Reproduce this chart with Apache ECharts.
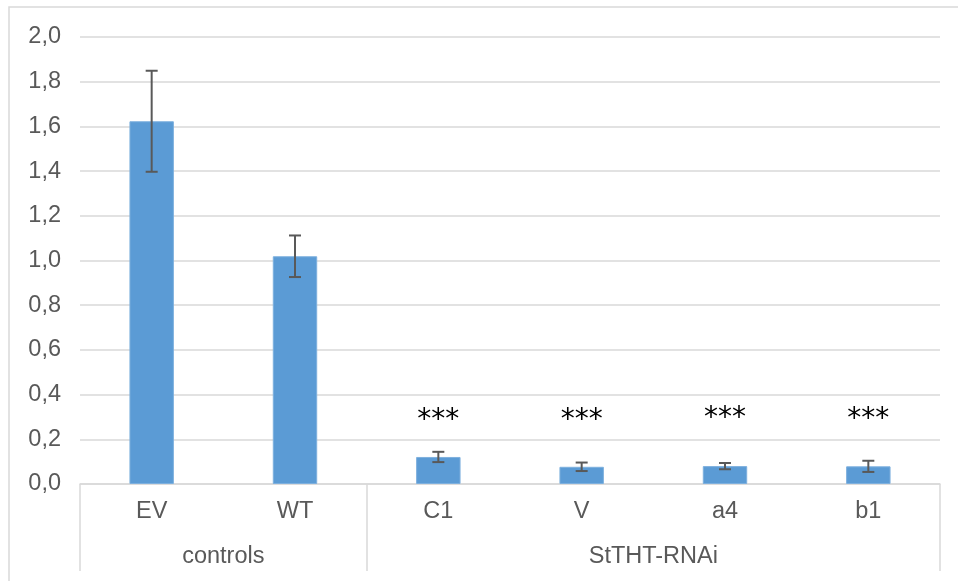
<!DOCTYPE html>
<html><head><meta charset="utf-8">
<script src="https://cdn.jsdelivr.net/npm/echarts@6/dist/echarts.min.js"></script>
<style>html,body{margin:0;padding:0;background:#fff}#c{width:958px;height:581px}</style>
</head><body><div id="c"></div>
<script>
const categories = ['EV','WT','C1','V','a4','b1'];
const values = [1.623, 1.019, 0.121, 0.077, 0.080, 0.079];
const errors = [0.226, 0.093, 0.023, 0.019, 0.014, 0.025];
const starLabels = ['', '', '***', '***', '***', '***'];
const starY = [0, 0, 0.318, 0.318, 0.328, 0.325];
const groups = ['controls', 'StTHT-RNAi'];
const groupCenters = [1, 4];
const groupEdges = [0, 2, 6];

const FONT = '"Liberation Sans", Arial, sans-serif';
const TXT = '#595959';
const GRID = '#d9d9d9';
const FS = 23.5;

const chart = echarts.init(document.getElementById('c'), null, {renderer: 'canvas'});
chart.setOption({
  animation: false,
  backgroundColor: '#fff',
  graphic: [{
    type: 'rect', shape: {x: 9, y: 7, width: 960, height: 580},
    style: {fill: 'none', stroke: GRID, lineWidth: 1.5}, silent: true, z: -1
  }],
  grid: {left: 80, right: 18, top: 37, bottom: 97, containLabel: false},
  xAxis: [{
    type: 'category', data: categories,
    axisLine: {show: true, lineStyle: {color: GRID, width: 1.5}},
    axisTick: {show: false},
    axisLabel: {color: TXT, fontSize: FS, fontFamily: FONT, margin: 16}
  }, {
    type: 'value', min: 0, max: 6, position: 'bottom',
    axisLine: {show: false},
    splitLine: {show: false},
    axisTick: {show: true, customValues: groupEdges, length: 87, lineStyle: {color: GRID, width: 1.5}},
    axisLabel: {show: true, customValues: groupCenters, color: TXT, fontSize: FS, fontFamily: FONT, margin: 61,
      formatter: v => groups[groupCenters.indexOf(v)] || ''}
  }],
  yAxis: {
    type: 'value', min: 0, max: 2, interval: 0.2,
    axisLine: {show: false}, axisTick: {show: false},
    splitLine: {lineStyle: {color: GRID, width: 1.5}},
    axisLabel: {color: TXT, fontSize: FS, fontFamily: FONT, margin: 19,
      formatter: v => v.toFixed(1).replace('.', ',')}
  },
  series: [{
    type: 'bar', data: values, barWidth: '31%',
    itemStyle: {color: '#5b9bd5', borderColor: '#7eb0de', borderWidth: 1}
  }, {
    type: 'custom', xAxisIndex: 0,
    data: values.map((v, i) => [i, v, errors[i]]),
    renderItem: (params, api) => {
      const i = api.value(0), v = api.value(1), e = api.value(2);
      const top = api.coord([i, v + e]);
      const bot = api.coord([i, v - e]);
      const hw = 6;
      const st = {stroke: '#595959', lineWidth: 2};
      return {type: 'group', children: [
        {type: 'line', shape: {x1: top[0], y1: top[1], x2: bot[0], y2: bot[1]}, style: st},
        {type: 'line', shape: {x1: top[0]-hw, y1: top[1], x2: top[0]+hw, y2: top[1]}, style: st},
        {type: 'line', shape: {x1: bot[0]-hw, y1: bot[1], x2: bot[0]+hw, y2: bot[1]}, style: st}
      ]};
    },
    z: 5
  }, {
    type: 'custom', xAxisIndex: 0,
    data: starY.map((y, i) => [i, y]),
    renderItem: (params, api) => {
      const i = api.value(0);
      const label = starLabels[i];
      if (!label) return null;
      const p = api.coord([i, api.value(1)]);
      return {type: 'text', x: p[0], y: p[1] + 8,
        style: {text: label, fill: '#000', font: '28px "DejaVu Sans", sans-serif', align: 'center', verticalAlign: 'middle'}};
    },
    z: 6
  }]
});
</script></body></html>
